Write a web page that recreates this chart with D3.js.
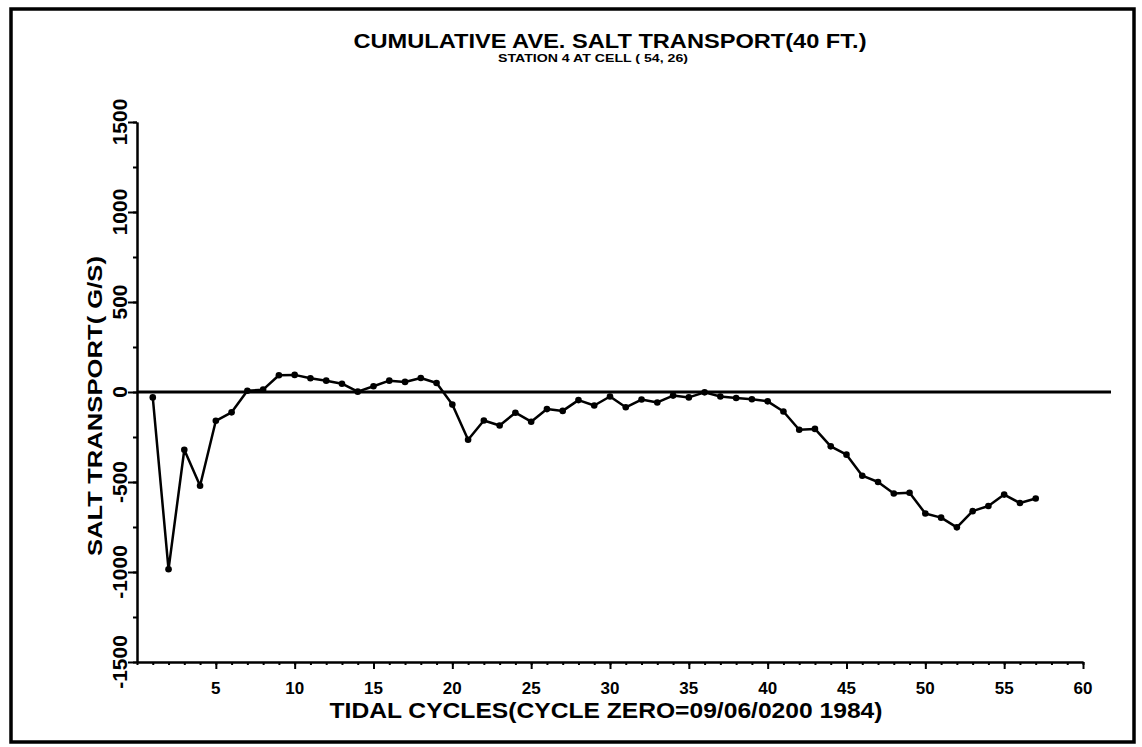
<!DOCTYPE html>
<html>
<head>
<meta charset="utf-8">
<script src="https://cdn.jsdelivr.net/npm/d3@7"></script>
<style>
  body { margin: 0; background: #fff; }
  svg { display: block; background: #fff; }
  text { font-family: "Liberation Sans", Arial, Helvetica, sans-serif; font-weight: bold; fill: #000; }
</style>
</head>
<body>
<svg id="chart" width="1142" height="747"></svg>
<script>
// Tidal cycle number for each plotted point
const cycles = [1, 2, 3, 4, 5, 6, 7, 8, 9, 10,
  11, 12, 13, 14, 15, 16, 17, 18, 19, 20,
  21, 22, 23, 24, 25, 26, 27, 28, 29, 30,
  31, 32, 33, 34, 35, 36, 37, 38, 39, 40,
  41, 42, 43, 44, 45, 46, 47, 48, 49, 50,
  51, 52, 53, 54, 55, 56, 57];

// Cumulative average salt transport (g/s) at each cycle
const transport = [-30, -985, -321, -521, -160, -113, 7, 13, 93, 95,
  76, 63, 46, 2, 32, 63, 56, 78, 50, -70,
  -265, -158, -186, -115, -165, -95, -105, -45, -75, -25,
  -85, -42, -58, -20, -30, -2, -25, -33, -40, -52,
  -108, -210, -205, -302, -348, -465, -500, -564, -560, -675,
  -698, -752, -662, -633, -570, -617, -592];

const xMajorTicks = [5, 10, 15, 20, 25, 30, 35, 40, 45, 50, 55, 60];
const xMinorTicks = d3.range(0, 61, 1);
const yMajorTicks = [-1500, -1000, -500, 0, 500, 1000, 1500];
const yMinorTicks = d3.range(-1500, 1501, 250);

const titleText = "CUMULATIVE AVE. SALT TRANSPORT(40 FT.)";
const subtitleText = "STATION 4 AT CELL ( 54, 26)";
const xTitleText = "TIDAL CYCLES(CYCLE ZERO=09/06/0200 1984)";
const yTitleText = "SALT TRANSPORT( G/S)";

const svg = d3.select("#chart");

const x = d3.scaleLinear().domain([0, 60]).range([137, 1083]);
const y = d3.scaleLinear().domain([-1500, 1500]).range([662, 122]);

// Page frame
svg.append("rect")
  .attr("x", 11).attr("y", 9)
  .attr("width", 1123).attr("height", 733)
  .attr("fill", "none").attr("stroke", "#000").attr("stroke-width", 3.5);

// Y axis: major and minor ticks pointing left
const yAxisG = svg.append("g").attr("transform", `translate(${x(0)},0)`);
yAxisG.append("g")
  .call(d3.axisLeft(y).tickValues(yMinorTicks).tickSize(4).tickSizeOuter(0).tickFormat(""));
yAxisG.append("g")
  .call(d3.axisLeft(y).tickValues(yMajorTicks).tickSize(9).tickSizeOuter(0).tickFormat(""));
yAxisG.selectAll("path, line").attr("stroke", "#000").attr("stroke-width", 2);

// Y tick labels, rotated
svg.append("g").selectAll("text")
  .data(yMajorTicks)
  .join("text")
  .attr("transform", d => `translate(127,${y(d)}) rotate(-90)`)
  .attr("text-anchor", "middle")
  .attr("font-size", 21)
  .text(d => d);

// X axis: major and minor ticks pointing down
const xAxisG = svg.append("g").attr("transform", `translate(0,${y(-1500)})`);
xAxisG.append("g")
  .call(d3.axisBottom(x).tickValues(xMinorTicks).tickSize(3).tickSizeOuter(0).tickFormat(""));
xAxisG.append("g")
  .call(d3.axisBottom(x).tickValues(xMajorTicks).tickSize(7).tickSizeOuter(0).tickFormat(""));
xAxisG.selectAll("path, line").attr("stroke", "#000").attr("stroke-width", 2);

// X tick labels
svg.append("g").selectAll("text")
  .data(xMajorTicks)
  .join("text")
  .attr("x", d => x(d))
  .attr("y", 694)
  .attr("text-anchor", "middle")
  .attr("font-size", 17)
  .text(d => d);

// Zero reference line
svg.append("line")
  .attr("x1", x(0)).attr("x2", x(60) + 28)
  .attr("y1", y(0)).attr("y2", y(0))
  .attr("stroke", "#000").attr("stroke-width", 3);

// Data series
const points = cycles.map((c, i) => [c, transport[i]]);
svg.append("path")
  .datum(points)
  .attr("fill", "none")
  .attr("stroke", "#000")
  .attr("stroke-width", 2.5)
  .attr("stroke-linejoin", "round")
  .attr("d", d3.line().x(d => x(d[0])).y(d => y(d[1])));

svg.append("g").selectAll("circle")
  .data(points)
  .join("circle")
  .attr("cx", d => x(d[0]))
  .attr("cy", d => y(d[1]))
  .attr("r", 3.3)
  .attr("fill", "#000");

// Titles
svg.append("text")
  .attr("x", 610).attr("y", 48)
  .attr("text-anchor", "middle")
  .attr("font-size", 21)
  .attr("textLength", 513).attr("lengthAdjust", "spacingAndGlyphs")
  .text(titleText);

svg.append("text")
  .attr("x", 593).attr("y", 62)
  .attr("text-anchor", "middle")
  .attr("font-size", 10)
  .attr("font-weight", 900)
  .attr("textLength", 190).attr("lengthAdjust", "spacingAndGlyphs")
  .text(subtitleText);

svg.append("text")
  .attr("x", 606).attr("y", 718)
  .attr("text-anchor", "middle")
  .attr("font-size", 22)
  .attr("textLength", 553).attr("lengthAdjust", "spacingAndGlyphs")
  .text(xTitleText);

svg.append("text")
  .attr("transform", "translate(102,406) rotate(-90)")
  .attr("text-anchor", "middle")
  .attr("font-size", 20)
  .attr("textLength", 300).attr("lengthAdjust", "spacingAndGlyphs")
  .text(yTitleText);
</script>
</body>
</html>
